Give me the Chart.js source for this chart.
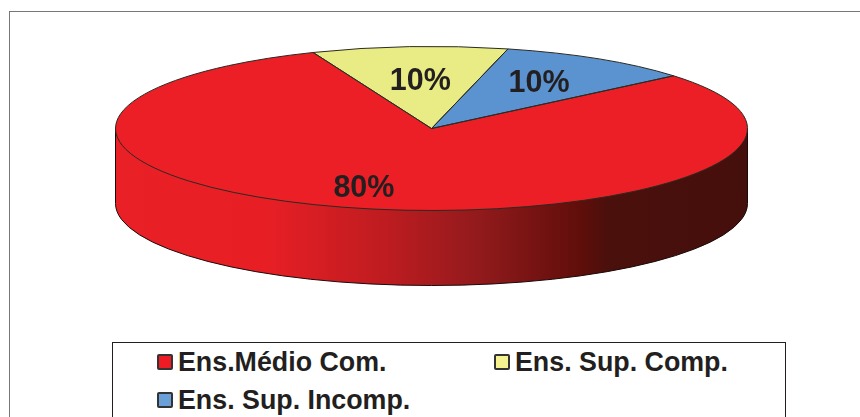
<!DOCTYPE html>
<html lang="pt">
<head>
<meta charset="utf-8">
<title>Escolaridade</title>
<script src="https://cdn.jsdelivr.net/npm/chart.js@4"></script>
<style>
  html, body { margin: 0; background: #fff; overflow: hidden; }
  #wrap { position: relative; width: 860px; height: 417px; overflow: hidden; }
  #frame { position: absolute; left: 9px; top: 11px; width: 900px; height: 450px; border: 1.5px solid #777; }
  #chart-escolaridade { position: absolute; left: 0; top: 0; }
  #legenda { position: absolute; left: 112px; top: 342px; width: 672px; height: 100px; border: 1.5px solid #231f20; background: #fff;
    font: bold 26.8px "Liberation Sans", Arial, sans-serif; color: #231f20; }
  .item { position: absolute; white-space: nowrap; line-height: 30px; padding-left: 21px; }
  .item i { position: absolute; left: 0; top: 7px; width: 12px; height: 12px; border: 2.5px solid #333; border-radius: 2px; }
</style>
</head>
<body>
<div id="wrap">
  <div id="frame"></div>
  <canvas id="chart-escolaridade" width="860" height="417"></canvas>
  <div id="legenda"></div>
</div>
<script>
const categorias = ["Ens.Médio Com.", "Ens. Sup. Comp.", "Ens. Sup. Incomp."];
const valores = [80, 10, 10];
const rotulos = ["80%", "10%", "10%"];
const cores = ["#EB1F25", "#E9EC84", "#5B93D0"];
const coresLegenda = ["#ED1C24", "#F5F28F", "#6A9FD8"];

// ellipse of the top face and height of the side wall
const cx = 431.5, cy = 128.5, rx = 316, ry = 82, altura = 75;
const distRotulo = [0.74, 0.6, 0.66];
const ajusteRotulo = [[-11, 1], [2, 2], [-3, 1]];
const posLegenda = [[44, 4], [381, 4], [44, 42]];

// squash the round pie into the ellipse
function aplicaElipse(ctx, arc) {
  ctx.translate(cx, cy);
  ctx.scale(rx / arc.outerRadius, ry / arc.outerRadius);
  ctx.translate(-arc.x, -arc.y);
}

const pizza3d = {
  id: "pizza3d",
  beforeDatasetsDraw(chart) {
    const ctx = chart.ctx;
    // Side wall
    const grad = ctx.createLinearGradient(cx - rx, 0, cx + rx, 0);
    grad.addColorStop(0, "#E92026");
    grad.addColorStop(0.24, "#E71F25");
    grad.addColorStop(0.435, "#BC1C20");
    grad.addColorStop(0.577, "#911A1C");
    grad.addColorStop(0.735, "#600E0A");
    grad.addColorStop(0.78, "#4A100C");
    grad.addColorStop(1, "#450F0C");
    ctx.save();
    ctx.beginPath();
    ctx.moveTo(cx - rx, cy);
    ctx.lineTo(cx - rx, cy + altura);
    ctx.ellipse(cx, cy + altura, rx, ry, 0, Math.PI, 0, true);
    ctx.lineTo(cx + rx, cy);
    ctx.closePath();
    ctx.fillStyle = grad;
    ctx.fill();
    ctx.strokeStyle = "#1a0a0a";
    ctx.lineWidth = 1;
    ctx.stroke();
    ctx.restore();

    ctx.save();
    aplicaElipse(ctx, chart.getDatasetMeta(0).data[0]);
  },
  afterDatasetsDraw(chart) {
    const ctx = chart.ctx;
    ctx.restore();
    const arcos = chart.getDatasetMeta(0).data;
    // Outline is stroked after restore so the line keeps an even width
    arcos.forEach((arc) => {
      ctx.save();
      aplicaElipse(ctx, arc);
      ctx.beginPath();
      ctx.moveTo(arc.x, arc.y);
      ctx.arc(arc.x, arc.y, arc.outerRadius, arc.startAngle, arc.endAngle);
      ctx.closePath();
      ctx.restore();
      ctx.strokeStyle = "#2a2a22";
      ctx.lineWidth = 1;
      ctx.stroke();
    });
    // Percent labels
    ctx.save();
    ctx.font = 'bold 30.5px "Liberation Sans", Arial, sans-serif';
    ctx.fillStyle = "#231f20";
    ctx.textAlign = "center";
    ctx.textBaseline = "middle";
    arcos.forEach((arc, i) => {
      const meio = (arc.startAngle + arc.endAngle) / 2;
      ctx.fillText(
        rotulos[i],
        cx + Math.cos(meio) * rx * distRotulo[i] + ajusteRotulo[i][0],
        cy + Math.sin(meio) * ry * distRotulo[i] + ajusteRotulo[i][1]
      );
    });
    ctx.restore();
  },
};

new Chart(document.getElementById("chart-escolaridade"), {
  type: "pie",
  data: {
    labels: categorias,
    datasets: [
      {
        data: valores,
        backgroundColor: cores,
        borderWidth: 0,
      },
    ],
  },
  options: {
    responsive: false,
    animation: false,
    rotation: 50,
    plugins: {
      legend: { display: false },
      tooltip: { enabled: false },
    },
  },
  plugins: [pizza3d],
});

// Legend
const legenda = document.getElementById("legenda");
categorias.forEach((nome, i) => {
  const item = document.createElement("div");
  item.className = "item";
  item.style.left = posLegenda[i][0] + "px";
  item.style.top = posLegenda[i][1] + "px";
  item.innerHTML = '<i style="background:' + coresLegenda[i] + '"></i>' + nome;
  legenda.appendChild(item);
});
</script>
</body>
</html>
